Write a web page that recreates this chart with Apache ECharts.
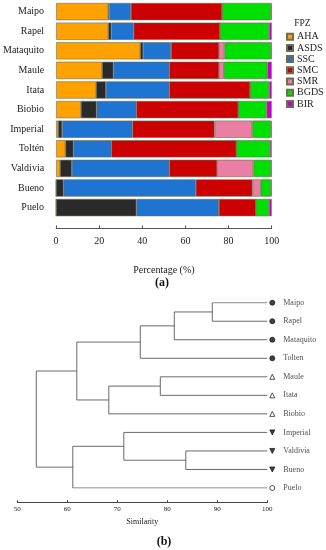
<!DOCTYPE html>
<html>
<head>
<meta charset="utf-8">
<script src="https://cdn.jsdelivr.net/npm/echarts@6/dist/echarts.min.js"></script>
<style>
html,body{margin:0;padding:0;background:#fff;}
#c{width:326px;height:550px;}
</style>
</head>
<body>
<div id="c"></div>
<script>
// ---- Panel (a): FPZ composition (%) ----
var categories = ['Maipo','Rapel','Mataquito','Maule','Itata','Biobio','Imperial','Toltén','Valdivia','Bueno','Puelo'];
var fpzNames = ['AHA','ASDS','SSC','SMC','SMR','BGDS','BIR'];
var AHA  = [24.2, 24.2, 39.0, 21.3, 18.5, 11.5,  0.9,  4.3,  1.8,  0.0,  0.0];
var ASDS = [ 0.5,  1.4,  1.4,  5.3,  4.6,  7.3,  1.9,  3.8,  5.5,  3.5, 37.2];
var SSC  = [10.0, 10.4, 12.9, 25.9, 29.4, 18.4, 32.6, 17.5, 45.2, 61.3, 38.3];
var SMC  = [42.3, 40.0, 22.3, 23.1, 37.5, 47.3, 38.1, 58.0, 22.2, 26.3, 17.1];
var SMR  = [ 0.0,  0.0,  2.5,  2.2,  0.0,  0.0, 17.5,  0.0, 16.8,  3.8,  0.0];
var BGDS = [22.7, 22.8, 21.6, 20.2,  8.8, 13.2,  8.7, 15.6,  8.2,  4.8,  6.2];
var BIR  = [ 0.3,  1.2,  0.3,  2.0,  1.2,  2.3,  0.3,  0.8,  0.3,  0.3,  1.2];
var xTicksA = [0, 20, 40, 60, 80, 100];

// ---- Panel (b): dendrogram (similarity, average linkage) ----
var leaves = ['Maipo','Rapel','Mataquito','Tolten','Maule','Itata','Biobio','Imperial','Valdivia','Bueno','Puelo'];
var leafGroup = ['A','A','A','A','B','B','B','C','C','C','D'];
var mergeLeft  = ['Maipo','m0','m1','Maule','m3','m2','Valdivia','Imperial','m7','m5'];
var mergeRight = ['Rapel','Mataquito','Tolten','Itata','Biobio','m4','Bueno','m6','Puelo','m8'];
var mergeSimilarity = [89.0, 81.4, 74.6, 78.6, 68.3, 61.9, 83.7, 71.3, 61.1, 53.8];
var xTicksB = [50, 60, 70, 80, 90, 100];

// ---- styles ----
var serif = 'Liberation Serif';
var colors = {AHA:'#FFA200', ASDS:'#2A2A2A', SSC:'#1E74D0', SMC:'#CC0000', SMR:'#E97FA3', BGDS:'#00E000', BIR:'#C400C4'};
var groupStyle = {
  A:{symbol:'circle', rotate:0, fill:'#111'},
  B:{symbol:'triangle', rotate:0, fill:'#fff'},
  C:{symbol:'triangle', rotate:180, fill:'#111'},
  D:{symbol:'circle', rotate:0, fill:'#fff'}
};

var seriesData = {AHA:AHA, ASDS:ASDS, SSC:SSC, SMC:SMC, SMR:SMR, BGDS:BGDS, BIR:BIR};
var barSeries = fpzNames.map(function(n){
  return {
    name:n, type:'bar', stack:'fpz', xAxisIndex:0, yAxisIndex:0,
    barCategoryGap:'12%',
    data: seriesData[n],
    itemStyle:{color:colors[n], borderColor:'#6d6d55', borderWidth:0.6},
    emphasis:{disabled:true}
  };
});

// build dendrogram geometry from merges
var pos = {};
leaves.forEach(function(l,i){ pos[l] = {x:100, y:i}; });
var dendroLines = [];
mergeSimilarity.forEach(function(s,k){
  var a = pos[mergeLeft[k]], b = pos[mergeRight[k]];
  dendroLines.push({coords:[[a.x,a.y],[s,a.y],[s,b.y],[b.x,b.y]]});
  pos['m'+k] = {x:s, y:(a.y+b.y)/2};
});

var leafPoints = leaves.map(function(l,i){
  var g = groupStyle[leafGroup[i]];
  return {
    value:[100, i], name:l,
    symbol:g.symbol, symbolRotate:g.rotate,
    itemStyle:{color:g.fill, borderColor:'#111', borderWidth:0.9}
  };
});

var chart = echarts.init(document.getElementById('c'), null, {renderer:'canvas'});
chart.setOption({
  backgroundColor:'#fff',
  animation:false,
  textStyle:{fontFamily:serif},
  grid:[
    {left:54, right:54.3, top:1.8, height:215.6},
    {left:17.3, right:58.7, top:302.7, height:185.3}
  ],
  legend:{
    orient:'vertical', left:286, top:31.7, padding:0,
    itemWidth:6, itemHeight:6, itemGap:1.2,
    icon:'rect',
    data:fpzNames,
    selectedMode:false,
    textStyle:{fontFamily:serif, fontSize:10, color:'#222', padding:[0,0,0,-1]}
  },
  xAxis:[
    {
      type:'value', gridIndex:0, min:0, max:100, interval:20, offset:11, position:'bottom',
      axisLine:{show:true, onZero:false, lineStyle:{color:'#555', width:1}},
      axisTick:{show:true, inside:true, length:3, lineStyle:{color:'#555'}},
      splitLine:{show:false},
      axisLabel:{fontFamily:serif, fontSize:10, color:'#222', margin:8,
        formatter:function(v){ return xTicksA.indexOf(v) >= 0 ? String(v) : ''; }},
      name:'Percentage (%)', nameLocation:'middle', nameGap:36.7,
      nameTextStyle:{fontFamily:serif, fontSize:10, color:'#222'}
    },
    {
      type:'value', gridIndex:1, min:50, max:100, interval:10, offset:14.7, position:'bottom',
      axisLine:{show:true, onZero:false, lineStyle:{color:'#444', width:1}},
      axisTick:{show:true, inside:true, length:2.5, lineStyle:{color:'#444'}},
      splitLine:{show:false},
      axisLabel:{fontFamily:serif, fontSize:7, color:'#222', margin:3,
        formatter:function(v){ return xTicksB.indexOf(v) >= 0 ? String(v) : ''; }},
      name:'Similarity', nameLocation:'middle', nameGap:15.6,
      nameTextStyle:{fontFamily:serif, fontSize:8, color:'#222'}
    }
  ],
  yAxis:[
    {
      type:'category', gridIndex:0, data:categories, inverse:true,
      axisLine:{show:false}, axisTick:{show:false}, splitLine:{show:false},
      axisLabel:{fontFamily:serif, fontSize:10, color:'#222', margin:12}
    },
    {
      type:'value', gridIndex:1, min:0, max:10, inverse:true, show:false
    }
  ],
  graphic:[
    {type:'text', left:294.3, top:18, style:{text:'FPZ', font:'9.5px "Liberation Serif"', fill:'#222'}},
    {type:'text', x:162, y:283, style:{text:'(a)', font:'bold 12px "Liberation Serif"', fill:'#111', align:'center', verticalAlign:'middle'}},
    {type:'text', x:164, y:541.7, style:{text:'(b)', font:'bold 12px "Liberation Serif"', fill:'#111', align:'center', verticalAlign:'middle'}}
  ],
  series: barSeries.concat([
    {
      type:'lines', coordinateSystem:'cartesian2d', xAxisIndex:1, yAxisIndex:1,
      polyline:true, silent:true,
      lineStyle:{color:'#444', width:0.8, opacity:1},
      data: dendroLines
    },
    {
      type:'scatter', xAxisIndex:1, yAxisIndex:1, clip:false, silent:true,
      symbolSize:5, symbolOffset:[5,0],
      data: leafPoints,
      label:{show:true, position:'right', distance:8, formatter:'{b}',
        fontFamily:serif, fontSize:8, color:'#222'}
    }
  ])
});
</script>
</body>
</html>
